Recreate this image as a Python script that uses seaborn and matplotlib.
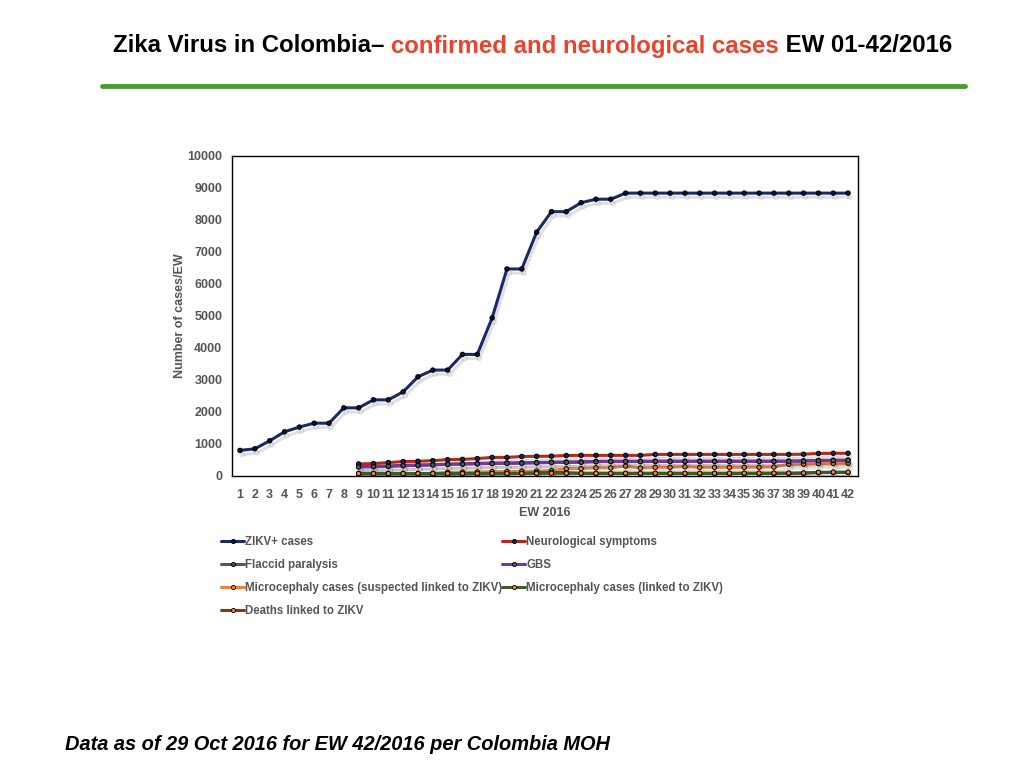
import matplotlib
matplotlib.use("Agg")
import matplotlib.pyplot as plt
import matplotlib.patheffects as pe
from matplotlib.lines import Line2D
import seaborn as sns

# weeks and values
weeks = list(range(1, 43))
late_weeks = list(range(9, 43))

zikv_cases = [800, 850, 1100, 1380, 1530, 1650, 1650, 2130, 2130, 2380, 2380, 2630, 3100, 3310,
              3310, 3800, 3800, 4940, 6470, 6470, 7620, 8260, 8260, 8540, 8650, 8650, 8840, 8840,
              8840, 8840, 8840, 8840, 8840, 8840, 8840, 8840, 8840, 8840, 8840, 8840, 8840, 8840]
neuro = [375, 390, 420, 450, 460, 480, 510, 520, 545, 580, 580, 610, 615, 620, 640, 645, 645,
         645, 645, 645, 675, 675, 675, 675, 675, 675, 675, 675, 675, 675, 680, 705, 710, 710]
flaccid = [300, 305, 315, 335, 345, 355, 370, 380, 390, 400, 405, 410, 420, 430, 435, 440, 455,
           460, 460, 460, 462, 462, 462, 462, 462, 462, 462, 462, 462, 465, 470, 485, 490, 495]
gbs = [280, 290, 300, 320, 330, 345, 360, 370, 380, 390, 395, 400, 410, 420, 425, 430, 445,
       450, 450, 450, 455, 455, 455, 455, 455, 455, 455, 455, 455, 460, 465, 480, 485, 490]
micro_susp = [80, 80, 80, 80, 80, 85, 115, 120, 125, 135, 140, 150, 155, 170, 225, 230, 255,
              255, 310, 245, 270, 270, 290, 270, 270, 270, 270, 275, 280, 370, 370, 390, 395, 400]
micro_linked = [75, 75, 75, 75, 75, 75, 75, 78, 78, 80, 80, 82, 82, 85, 85, 85, 85, 85, 85, 85,
                85, 85, 85, 85, 85, 85, 88, 88, 90, 92, 95, 115, 120, 120]
deaths = [60, 60, 60, 60, 60, 60, 60, 65, 65, 70, 70, 80, 100, 110, 105, 80, 75, 75, 75, 75,
          75, 75, 75, 75, 75, 75, 78, 78, 80, 82, 85, 105, 110, 110]

sns.set_style("white")
plt.rcParams['font.family'] = ['Liberation Sans', 'DejaVu Sans']

fig = plt.figure(figsize=(10.24, 7.68), dpi=100)
ax = fig.add_axes([232 / 1024, 1 - 476 / 768, 626 / 1024, 320 / 768])

shadow = [pe.SimpleLineShadow(offset=(1.5, -3), shadow_color='black', alpha=0.12), pe.Normal()]

# drawing order; legend columns below
series = [
    ("ZIKV+ cases", weeks, zikv_cases, "#1b2a66", "#0d1330"),
    ("Flaccid paralysis", late_weeks, flaccid, "#555555", "#4a4a4a"),
    ("Microcephaly cases (suspected linked to ZIKV)", late_weeks, micro_susp, "#e8823f", "#f08a30"),
    ("Deaths linked to ZIKV", late_weeks, deaths, "#7b3d14", "#f08a30"),
    ("Neurological symptoms", late_weeks, neuro, "#b5281c", "#16255c"),
    ("GBS", late_weeks, gbs, "#7235a3", "#555555"),
    ("Microcephaly cases (linked to ZIKV)", late_weeks, micro_linked, "#3e5a2a", "#f08a30"),
]

handles = []
for label, xs, ys, lc, mc in series:
    sns.lineplot(x=xs, y=ys, ax=ax, color=lc, linewidth=2.2, marker='o', markersize=3.2,
                 markerfacecolor=mc, markeredgecolor='black', markeredgewidth=0.7,
                 path_effects=shadow, label=label, legend=False)
    handles.append(Line2D([0], [0], color=lc, lw=2.2, marker='o', markersize=3,
                          markerfacecolor=mc, markeredgecolor='black', markeredgewidth=0.6,
                          label=label))

ax.set_xlim(0.46, 42.67)
ax.set_ylim(0, 10000)
ax.set_xticks(weeks)
ax.set_xticklabels([str(w) for w in weeks])
ax.set_yticks(range(0, 10001, 1000))
ax.tick_params(axis='both', length=0, labelsize=9, labelcolor='#555555')
ax.tick_params(axis='x', pad=9)
ax.tick_params(axis='y', pad=7)
for lab in ax.get_xticklabels() + ax.get_yticklabels():
    lab.set_fontweight('bold')
for sp in ax.spines.values():
    sp.set_color('black')
    sp.set_linewidth(1.0)
ax.set_xlabel("EW 2016", fontsize=9, fontweight='bold', color='#555555', labelpad=5)
ax.set_ylabel("Number of cases/EW", fontsize=9, fontweight='bold', color='#555555', labelpad=1)

leg_kw = dict(loc='upper left', frameon=False, labelcolor='#555555', handlelength=2.0,
              handletextpad=0.05, labelspacing=0.95, prop={'weight': 'bold', 'size': 8.3})
leg1 = fig.legend(handles=handles[:4], bbox_to_anchor=(211 / 1024, 1 - 526 / 768), **leg_kw)
leg2 = fig.legend(handles=handles[4:], bbox_to_anchor=(492 / 1024, 1 - 526 / 768), **leg_kw)

# title in three colours
fig.canvas.draw()
renderer = fig.canvas.get_renderer()
parts = [("Zika Virus in Colombia\u2013 ", "black"),
         ("confirmed and neurological cases", "#e8432d"),
         (" EW 01-42/2016", "black")]
x = 113 / 1024
for txt, col in parts:
    t = fig.text(x, 1 - 46 / 768, txt, fontsize=17.3, fontweight='bold', color=col,
                 ha='left', va='center')
    bb = t.get_window_extent(renderer=renderer)
    x += bb.width / fig.bbox.width

fig.add_artist(Line2D([102 / 1024, 965 / 1024], [1 - 86 / 768, 1 - 86 / 768],
                      color='#4a9a32', lw=3.5))

fig.text(65 / 1024, 1 - 744 / 768, "Data as of 29 Oct 2016 for EW 42/2016 per Colombia MOH",
         fontsize=14.4, fontweight='bold', fontstyle='italic', color='black',
         ha='left', va='center')

fig.savefig("out.png", dpi=100)
